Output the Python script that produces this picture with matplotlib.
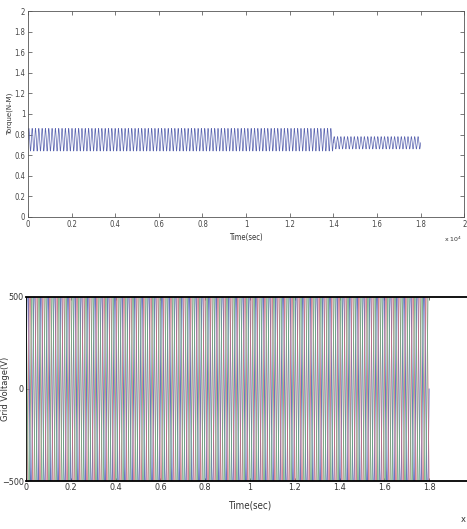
import numpy as np
import matplotlib.pyplot as plt
from matplotlib.ticker import FuncFormatter

# torque ripple segments: start, end (samples), low, high, number of cycles
torque_start = [0, 14000]
torque_end = [14000, 18000]
torque_low = [0.64, 0.66]
torque_high = [0.86, 0.78]
torque_cycles = [92, 26]

# grid voltage: three phases, peak (V), cycles over the run
volt_end = 18000
volt_peak = 600
volt_cycles = 60
phase_deg = [0, 120, 240]
phase_colors = ['#4e5cb4', '#c87080', '#70aa80']

xticks = np.arange(0, 20001, 2000)
tick_fmt = FuncFormatter(lambda v, p: '%g' % round(v / 1e4, 1))

fig = plt.figure(figsize=(4.67, 5.29), dpi=100)

# ---- torque ----
ax1 = fig.add_axes([0.060, 0.590, 0.934, 0.389])
for s, e, lo, hi, n in zip(torque_start, torque_end, torque_low, torque_high, torque_cycles):
    t = np.linspace(s, e, n * 20 + 1)
    mid = (lo + hi) / 2
    amp = (hi - lo) / 2
    ax1.plot(t, mid + amp * np.sin(2 * np.pi * n * (t - s) / (e - s)),
             color='#5a64b0', lw=0.5)
ax1.set_xlim(0, 20000)
ax1.set_ylim(0, 2)
ax1.set_xticks(xticks)
ax1.xaxis.set_major_formatter(tick_fmt)
ax1.set_yticks(np.arange(0, 2.01, 0.2))
ax1.yaxis.set_major_formatter(FuncFormatter(lambda v, p: '%g' % round(v, 1)))
ax1.tick_params(direction='in', top=True, right=True, labelsize=5.5, length=3,
                width=0.5, colors='#444444', pad=2)
for lab in ax1.get_xticklabels() + ax1.get_yticklabels():
    lab.set_fontstretch('condensed')
for sp in ax1.spines.values():
    sp.set_linewidth(0.6)
    sp.set_color('#555555')
ax1.set_xlabel('Time(sec)', fontsize=5.5, labelpad=3, color='#333333',
               fontstretch='condensed')
ax1.set_ylabel('Torque(N-M)', fontsize=5, labelpad=1, color='#333333')
ax1.text(0.995, -0.085, r'x 10$^4$', transform=ax1.transAxes, fontsize=4.5,
         ha='right', va='top', color='#333333')

# ---- grid voltage ----
ax2 = fig.add_axes([0.0557, 0.0907, 0.959, 0.348])
tv = np.linspace(0, volt_end, volt_cycles * 40 + 1)
for ph, c in zip(phase_deg, phase_colors):
    v = volt_peak * np.sin(2 * np.pi * volt_cycles * tv / volt_end - np.radians(ph))
    ax2.plot(tv, v, color=c, lw=0.6)
ax2.set_xlim(0, 20000)
ax2.set_ylim(-500, 500)
ax2.set_xticks(xticks)
ax2.xaxis.set_major_formatter(tick_fmt)
ax2.set_yticks([-500, 0, 500])
ax2.tick_params(direction='in', top=True, right=True, labelsize=6.5, length=2,
                width=0.5, colors='#333333', pad=1.5)
for lab in ax2.get_xticklabels() + ax2.get_yticklabels():
    lab.set_fontstretch('condensed')
for side in ['top', 'bottom']:
    ax2.spines[side].set_linewidth(1.3)
ax2.spines['left'].set_linewidth(0.6)
ax2.set_xlabel('Time(sec)', fontsize=7, labelpad=6, color='#333333',
               fontstretch='condensed')
ax2.set_ylabel('Grid Voltage(V)', fontsize=6, color='#333333')
ax2.yaxis.set_label_coords(-0.035, 0.5)
ax2.text(0.969, -0.17, r'x 10$^4$', transform=ax2.transAxes, fontsize=6,
         ha='left', va='top', color='#333333')

fig.savefig('out.png', dpi=100)
